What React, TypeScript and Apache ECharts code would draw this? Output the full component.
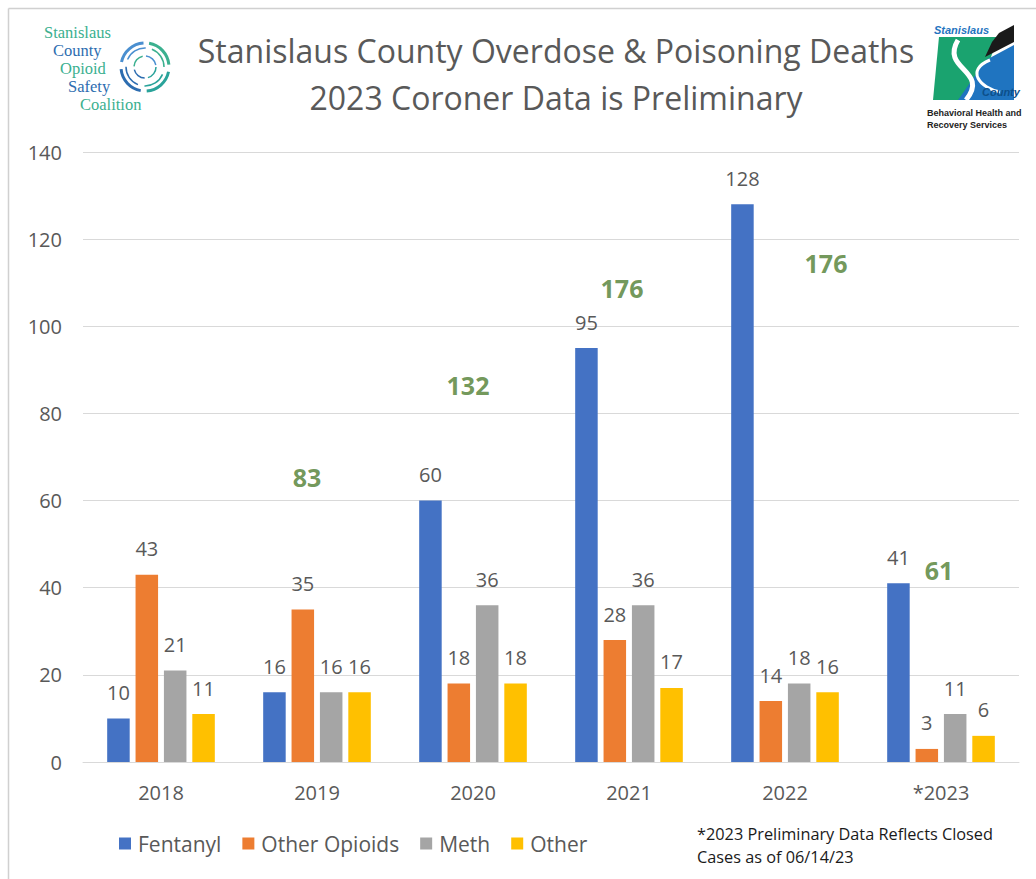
import React, { useEffect, useRef } from "react";
import * as echarts from "echarts";

const years = ["2018", "2019", "2020", "2021", "2022", "*2023"];
const fentanyl = [10, 16, 60, 95, 128, 41];
const otherOpioids = [43, 35, 18, 28, 14, 3];
const meth = [21, 16, 36, 36, 18, 11];
const other = [11, 16, 18, 17, 16, 6];
// Placement (in axis units) of the green yearly-total annotations; 2018 has none.
const totalAnchorY = [null, 65.4, 86.5, 108.8, 114.5, 44.1];
const totalShiftX = [0, -10, -5, -7, 41, -2];
const yTicks = { min: 0, max: 140, interval: 20 };

const FONT = "'Open Sans', sans-serif";
const GREY_TEXT = "#595959";

export default function App() {
  const ref = useRef<HTMLDivElement>(null);
  useEffect(() => {
    if (!ref.current) return;
    const chart = echarts.init(ref.current, null, { renderer: "svg" });
    const totals = years.map((_, i) => fentanyl[i] + otherOpioids[i] + meth[i] + other[i]);
    const totalData = years
      .map((_, i) =>
        totalAnchorY[i] == null
          ? null
          : {
              value: [i, totalAnchorY[i]],
              total: totals[i],
              label: { offset: [totalShiftX[i], 0] },
            }
      )
      .filter((d) => d !== null);

    const barLabel = {
      show: true,
      position: "top",
      distance: 16,
      color: GREY_TEXT,
      fontSize: 20,
      fontFamily: FONT,
    };
    const mkBar = (name: string, data: number[], color: string) => ({
      name,
      type: "bar",
      data,
      itemStyle: { color },
      label: barLabel,
      barGap: "26%",
      barCategoryGap: "31%",
    });

    const option: any = {
      animation: false,
      backgroundColor: "#ffffff",
      title: {
        text: "Stanislaus County Overdose & Poisoning Deaths\n2023 Coroner Data is Preliminary",
        left: 551,
        top: 22,
        textAlign: "center",
        textStyle: {
          fontFamily: FONT,
          fontSize: 32,
          fontWeight: "normal",
          color: GREY_TEXT,
          lineHeight: 47,
        },
      },
      legend: {
        data: ["Fentanyl", "Other Opioids", "Meth", "Other"],
        left: 114,
        top: 828,
        icon: "rect",
        itemWidth: 12,
        itemHeight: 12,
        itemGap: 21,
        textStyle: { fontFamily: FONT, fontSize: 21, color: GREY_TEXT, padding: [0, 0, 0, 2] },
      },
      grid: { left: 83, right: 17, top: 152, bottom: 117, containLabel: false },
      xAxis: {
        type: "category",
        data: years,
        axisLine: { lineStyle: { color: "#d9d9d9", width: 1 } },
        axisTick: { show: false },
        axisLabel: { color: GREY_TEXT, fontSize: 20, fontFamily: FONT, margin: 20 },
      },
      yAxis: {
        type: "value",
        min: yTicks.min,
        max: yTicks.max,
        interval: yTicks.interval,
        axisLine: { show: false },
        axisTick: { show: false },
        splitLine: { lineStyle: { color: "#d9d9d9", width: 1 } },
        axisLabel: { color: GREY_TEXT, fontSize: 20, fontFamily: FONT, margin: 21 },
      },
      series: [
        mkBar("Fentanyl", fentanyl, "#4472C4"),
        mkBar("Other Opioids", otherOpioids, "#ED7D31"),
        mkBar("Meth", meth, "#A5A5A5"),
        mkBar("Other", other, "#FFC000"),
        {
          name: "Total",
          type: "scatter",
          data: totalData,
          symbolSize: 0,
          silent: true,
          label: {
            show: true,
            position: "inside",
            formatter: (p: any) => String(p.data.total),
            color: "#4e7d2f",
            fontSize: 25,
            fontWeight: "bold",
            fontFamily: FONT,
          },
          z: 5,
        },
      ],
      graphic: [
        // frame
        { type: "line", shape: { x1: 8.5, y1: 8.5, x2: 1036, y2: 8.5 }, style: { stroke: "#d0d0d0", lineWidth: 1.5 } },
        { type: "line", shape: { x1: 8.5, y1: 8.5, x2: 8.5, y2: 879 }, style: { stroke: "#d0d0d0", lineWidth: 1.5 } },
        // footnote
        {
          type: "text",
          left: 697,
          top: 822,
          style: {
            text: "*2023 Preliminary Data Reflects Closed\nCases as of 06/14/23",
            font: `16.3px ${FONT}`,
            fill: "#1a1a1a",
            lineHeight: 23,
          },
        },
        // left logo text
        { type: "text", left: 44, top: 24, style: { text: "Stanislaus", font: "16.5px 'Liberation Serif', serif", fill: "#3bb08f" } },
        { type: "text", left: 53, top: 42, style: { text: "County", font: "16.5px 'Liberation Serif', serif", fill: "#2d6db0" } },
        { type: "text", left: 60, top: 60, style: { text: "Opioid", font: "16.5px 'Liberation Serif', serif", fill: "#3bb08f" } },
        { type: "text", left: 68, top: 78, style: { text: "Safety", font: "16.5px 'Liberation Serif', serif", fill: "#2d6db0" } },
        { type: "text", left: 80, top: 96, style: { text: "Coalition", font: "16.5px 'Liberation Serif', serif", fill: "#3bb08f" } },
        // left logo icon (ring of hands)
        { type: "arc", shape: { cx: 145, cy: 67, r: 24, startAngle: -1.4, endAngle: -0.1 }, style: { stroke: "#3bb08f", lineWidth: 3, fill: "none" } },
        { type: "arc", shape: { cx: 145, cy: 67, r: 24, startAngle: 0.2, endAngle: 1.5 }, style: { stroke: "#2aa39a", lineWidth: 3, fill: "none" } },
        { type: "arc", shape: { cx: 145, cy: 67, r: 24, startAngle: 1.75, endAngle: 3.05 }, style: { stroke: "#2d6db0", lineWidth: 3, fill: "none" } },
        { type: "arc", shape: { cx: 145, cy: 67, r: 24, startAngle: 3.35, endAngle: 4.65 }, style: { stroke: "#4a8fd0", lineWidth: 3, fill: "none" } },
        { type: "arc", shape: { cx: 145, cy: 67, r: 19, startAngle: -1.2, endAngle: 0.0 }, style: { stroke: "#3bb08f", lineWidth: 1.5, fill: "none" } },
        { type: "arc", shape: { cx: 145, cy: 67, r: 19, startAngle: 0.4, endAngle: 1.6 }, style: { stroke: "#2aa39a", lineWidth: 1.5, fill: "none" } },
        { type: "arc", shape: { cx: 145, cy: 67, r: 19, startAngle: 1.95, endAngle: 3.15 }, style: { stroke: "#2d6db0", lineWidth: 1.5, fill: "none" } },
        { type: "arc", shape: { cx: 145, cy: 67, r: 19, startAngle: 3.55, endAngle: 4.75 }, style: { stroke: "#4a8fd0", lineWidth: 1.5, fill: "none" } },
        { type: "arc", shape: { cx: 145, cy: 67, r: 11, startAngle: 0, endAngle: 1.3 }, style: { stroke: "#2aa39a", lineWidth: 1.5, fill: "none" } },
        { type: "arc", shape: { cx: 145, cy: 67, r: 11, startAngle: 1.6, endAngle: 2.9 }, style: { stroke: "#2d6db0", lineWidth: 1.5, fill: "none" } },
        { type: "arc", shape: { cx: 145, cy: 67, r: 11, startAngle: 3.2, endAngle: 4.5 }, style: { stroke: "#3bb08f", lineWidth: 1.5, fill: "none" } },
        { type: "arc", shape: { cx: 145, cy: 67, r: 11, startAngle: 4.8, endAngle: 6.1 }, style: { stroke: "#4a8fd0", lineWidth: 1.5, fill: "none" } },
        // right logo
        { type: "polygon", shape: { points: [[939, 37], [998, 37], [976, 100], [933, 100]] }, style: { fill: "#1aa36f" } },
        { type: "polygon", shape: { points: [[999, 33], [1014, 25], [1014, 42], [985, 57], [992, 42]] }, style: { fill: "#1a1a1a" } },
        { type: "polygon", shape: { points: [[986, 60], [1014, 45], [1014, 100], [958, 100]] }, style: { fill: "#1f74c0" } },
        {
          type: "bezierCurve",
          shape: { x1: 958, y1: 40, cpx1: 940, cpy1: 70, cpx2: 990, cpy2: 70, x2: 966, y2: 100 },
          style: { stroke: "#ffffff", lineWidth: 5, fill: "none" },
        },
        {
          type: "bezierCurve",
          shape: { x1: 990, y1: 60, cpx1: 965, cpy1: 70, cpx2: 980, cpy2: 88, x2: 1000, y2: 92 },
          style: { stroke: "#ffffff", lineWidth: 3, fill: "none" },
        },
        { type: "text", left: 934, top: 24, style: { text: "Stanislaus", font: "italic bold 11px 'Liberation Sans', sans-serif", fill: "#1f74c0" } },
        { type: "text", left: 982, top: 86, style: { text: "County", font: "italic bold 11px 'Liberation Sans', sans-serif", fill: "#0d4f8a" } },
        { type: "text", left: 927, top: 108, style: { text: "Behavioral Health and", font: "bold 9px 'Liberation Sans', sans-serif", fill: "#222222" } },
        { type: "text", left: 927, top: 120, style: { text: "Recovery Services", font: "bold 9px 'Liberation Sans', sans-serif", fill: "#222222" } },
      ],
    };
    chart.setOption(option);
    return () => chart.dispose();
  }, []);
  return (
    <div
      ref={ref}
      style={{ position: "absolute", left: 0, top: 0, width: 1036, height: 879, background: "#fff" }}
    />
  );
}
